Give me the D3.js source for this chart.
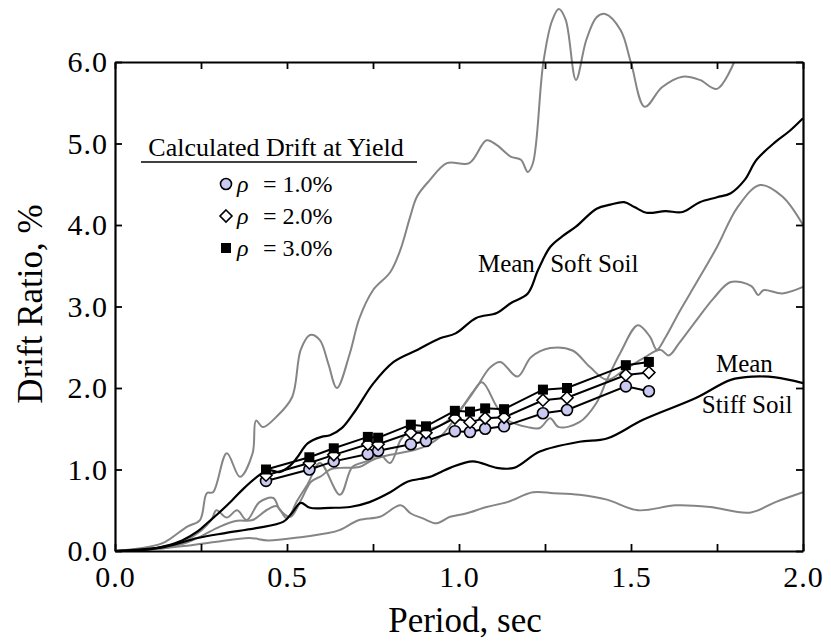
<!DOCTYPE html>
<html>
<head>
<meta charset="utf-8">
<script src="https://cdn.jsdelivr.net/npm/d3@7"></script>
<style>
  body { margin: 0; background: #fff; }
  svg text { font-family: "Liberation Serif", "Times New Roman", serif; fill: #000; }
</style>
</head>
<body>
<svg id="chart"></svg>
<script>
// Spectra (gray) - period, sec / drift ratio, %
var topPeriod = [0, 0.096, 0.145, 0.21, 0.247, 0.267, 0.285, 0.325, 0.363, 0.40, 0.41, 0.43, 0.47, 0.515, 0.54, 0.567, 0.595, 0.62, 0.645, 0.683, 0.71, 0.75, 0.80, 0.83, 0.858, 0.878, 0.915, 0.965, 1.03, 1.08, 1.11, 1.15, 1.18, 1.20, 1.215, 1.245, 1.27, 1.29, 1.31, 1.34, 1.37, 1.40, 1.425, 1.47, 1.50, 1.54, 1.59, 1.65, 1.70, 1.75, 1.80];
var topDrift  = [0, 0.05, 0.11, 0.30, 0.38, 0.71, 0.72, 1.20, 0.91, 1.20, 1.60, 1.52, 1.65, 1.89, 2.47, 2.65, 2.59, 2.30, 2.00, 2.43, 2.85, 3.20, 3.42, 3.70, 4.10, 4.35, 4.55, 4.76, 4.76, 5.04, 4.98, 4.84, 4.80, 4.65, 4.76, 5.99, 6.50, 6.65, 6.52, 5.78, 6.27, 6.55, 6.59, 6.39, 5.99, 5.45, 5.69, 5.82, 5.78, 5.67, 6.00];

var g2Period = [0, 0.10, 0.15, 0.20, 0.25, 0.28, 0.295, 0.325, 0.355, 0.383, 0.42, 0.46, 0.48, 0.51, 0.54, 0.57, 0.60, 0.625, 0.654, 0.71, 0.75, 0.80, 0.85, 0.90, 0.95, 1.00, 1.04, 1.067, 1.11, 1.14, 1.20, 1.235, 1.265, 1.29, 1.35, 1.40, 1.43, 1.47, 1.52, 1.555, 1.575, 1.60, 1.64, 1.69, 1.75, 1.81, 1.875, 1.94, 2.00];
var g2Drift  = [0, 0.03, 0.06, 0.12, 0.25, 0.38, 0.50, 0.41, 0.50, 0.38, 0.60, 0.65, 0.50, 0.42, 0.62, 0.85, 0.92, 1.00, 1.02, 1.03, 1.12, 1.18, 1.22, 1.28, 1.42, 1.70, 1.95, 2.07, 1.77, 1.61, 1.52, 1.51, 1.63, 1.52, 1.58, 1.82, 2.10, 2.44, 2.77, 2.63, 2.47, 2.62, 2.93, 3.29, 3.73, 4.22, 4.49, 4.35, 4.00];

var g3Period = [0, 0.10, 0.15, 0.20, 0.25, 0.305, 0.355, 0.40, 0.44, 0.47, 0.50, 0.53, 0.56, 0.596, 0.654, 0.69, 0.73, 0.77, 0.80, 0.83, 0.85, 0.90, 0.95, 1.00, 1.05, 1.09, 1.12, 1.17, 1.21, 1.265, 1.33, 1.38, 1.43, 1.48, 1.53, 1.585, 1.61, 1.64, 1.69, 1.74, 1.79, 1.85, 1.87, 1.885, 1.94, 2.00];
var g3Drift  = [0, 0.02, 0.04, 0.09, 0.18, 0.30, 0.37, 0.38, 0.50, 0.55, 0.40, 0.62, 0.82, 1.08, 0.69, 1.03, 1.10, 1.18, 1.08, 1.36, 1.45, 1.48, 1.55, 1.72, 2.00, 2.25, 2.32, 2.14, 2.38, 2.49, 2.46, 2.26, 2.10, 2.22, 2.35, 2.47, 2.40, 2.55, 2.83, 3.10, 3.30, 3.25, 3.14, 3.20, 3.16, 3.24];

var lowPeriod = [0, 0.10, 0.20, 0.29, 0.39, 0.445, 0.54, 0.62, 0.654, 0.71, 0.77, 0.83, 0.86, 0.895, 0.935, 0.974, 1.02, 1.08, 1.14, 1.215, 1.275, 1.35, 1.43, 1.52, 1.63, 1.73, 1.845, 1.92, 2.00];
var lowDrift  = [0, 0.02, 0.06, 0.11, 0.16, 0.13, 0.17, 0.22, 0.26, 0.38, 0.42, 0.56, 0.46, 0.40, 0.34, 0.42, 0.46, 0.54, 0.60, 0.72, 0.71, 0.69, 0.63, 0.50, 0.56, 0.54, 0.47, 0.60, 0.72];

// Mean spectra (black)
var softPeriod = [0, 0.10, 0.145, 0.195, 0.24, 0.27, 0.30, 0.34, 0.37, 0.41, 0.445, 0.48, 0.51, 0.53, 0.56, 0.60, 0.625, 0.66, 0.70, 0.75, 0.81, 0.88, 0.945, 0.99, 1.05, 1.11, 1.15, 1.20, 1.23, 1.265, 1.30, 1.34, 1.40, 1.44, 1.48, 1.51, 1.545, 1.60, 1.65, 1.70, 1.75, 1.79, 1.83, 1.865, 1.92, 1.96, 2.00];
var softDrift  = [0, 0.02, 0.06, 0.13, 0.24, 0.35, 0.46, 0.62, 0.75, 0.90, 0.99, 0.97, 1.05, 1.15, 1.32, 1.40, 1.42, 1.51, 1.73, 2.05, 2.32, 2.47, 2.61, 2.67, 2.86, 2.92, 3.04, 3.16, 3.45, 3.73, 3.86, 3.98, 4.20, 4.25, 4.28, 4.22, 4.15, 4.17, 4.16, 4.28, 4.34, 4.39, 4.55, 4.80, 5.02, 5.15, 5.31];

var stiffPeriod = [0, 0.145, 0.24, 0.32, 0.41, 0.49, 0.515, 0.54, 0.567, 0.625, 0.683, 0.74, 0.80, 0.85, 0.915, 0.974, 1.04, 1.11, 1.16, 1.235, 1.35, 1.43, 1.535, 1.69, 1.79, 1.855, 1.92, 2.00];
var stiffDrift  = [0, 0.05, 0.16, 0.22, 0.28, 0.36, 0.47, 0.59, 0.53, 0.53, 0.54, 0.60, 0.72, 0.85, 0.91, 1.02, 1.10, 1.02, 1.02, 1.22, 1.34, 1.38, 1.61, 1.88, 2.10, 2.14, 2.13, 2.06];

// Calculated drift at yield
var yieldPeriod = [0.439, 0.565, 0.636, 0.735, 0.765, 0.86, 0.904, 0.988, 1.032, 1.076, 1.131, 1.244, 1.314, 1.485, 1.552];
var rho1Drift = [0.86, 1.00, 1.10, 1.19, 1.23, 1.31, 1.35, 1.47, 1.46, 1.50, 1.53, 1.69, 1.73, 2.02, 1.96];
var rho2Drift = [0.93, 1.08, 1.18, 1.31, 1.31, 1.45, 1.45, 1.63, 1.58, 1.63, 1.64, 1.85, 1.88, 2.16, 2.19];
var rho3Drift = [1.00, 1.15, 1.26, 1.40, 1.39, 1.55, 1.53, 1.72, 1.71, 1.75, 1.74, 1.98, 2.00, 2.28, 2.32];
var rhoLabels = ["1.0%", "2.0%", "3.0%"];

var xTicks = [0, 0.25, 0.5, 0.75, 1.0, 1.25, 1.5, 1.75, 2.0];
var yTicks = [0, 1, 2, 3, 4, 5, 6];

var w = 831, h = 641;
var svg = d3.select("#chart").attr("width", w).attr("height", h);

var x = d3.scaleLinear().domain([0, 2]).range([115, 803]);
var y = d3.scaleLinear().domain([0, 6]).range([551, 62]);

function pts(px, py) {
    return px.map(function (d, i) { return [d, py[i]]; });
}

var smooth = d3.line()
    .x(function (d) { return x(d[0]); })
    .y(function (d) { return y(d[1]); })
    .curve(d3.curveCatmullRom.alpha(0.5));

var straight = d3.line()
    .x(function (d) { return x(d[0]); })
    .y(function (d) { return y(d[1]); });

// gray spectra
[[topPeriod, topDrift], [g2Period, g2Drift], [g3Period, g3Drift], [lowPeriod, lowDrift]].forEach(function (s) {
    svg.append("path")
        .attr("d", smooth(pts(s[0], s[1])))
        .attr("fill", "none")
        .attr("stroke", "#858585")
        .attr("stroke-width", 2);
});

// mean lines
[[softPeriod, softDrift], [stiffPeriod, stiffDrift]].forEach(function (s) {
    svg.append("path")
        .attr("d", smooth(pts(s[0], s[1])))
        .attr("fill", "none")
        .attr("stroke", "#000")
        .attr("stroke-width", 2.2);
});

// axes, ticks pointing inward
var fmt = function (d) { return (d * 2) % 1 === 0 ? d.toFixed(1) : ""; };

svg.append("g").attr("class", "axis").attr("transform", "translate(0,551)")
    .call(d3.axisBottom(x).tickValues(xTicks).tickFormat(fmt).tickSizeInner(-7).tickSizeOuter(0).tickPadding(15));
svg.append("g").attr("class", "axis").attr("transform", "translate(0,62)")
    .call(d3.axisTop(x).tickValues(xTicks).tickFormat("").tickSizeInner(-7).tickSizeOuter(0));
svg.append("g").attr("class", "axis").attr("transform", "translate(115,0)")
    .call(d3.axisLeft(y).tickValues(yTicks).tickFormat(d3.format(".1f")).tickSizeInner(-7).tickSizeOuter(0).tickPadding(7));
svg.append("g").attr("class", "axis").attr("transform", "translate(803,0)")
    .call(d3.axisRight(y).tickValues(yTicks).tickFormat("").tickSizeInner(-7).tickSizeOuter(0));

svg.selectAll(".axis .domain").attr("stroke", "#000").attr("stroke-width", 2.2);
svg.selectAll(".axis .tick line").attr("stroke", "#000").attr("stroke-width", 1.8);
svg.selectAll(".axis text")
    .attr("font-family", "Liberation Serif")
    .attr("font-size", 30)
    .attr("letter-spacing", 1)
    .attr("fill", "#000");

// yield drift series
var series = [
    { vals: rho1Drift, shape: "circle" },
    { vals: rho2Drift, shape: "diamond" },
    { vals: rho3Drift, shape: "square" }
];

function drawMarker(sel, shape) {
    if (shape === "circle") {
        sel.append("circle").attr("r", 5.5)
            .attr("fill", "#c9c9f2").attr("stroke", "#000").attr("stroke-width", 1.6);
    } else if (shape === "diamond") {
        sel.append("path").attr("d", "M0,-6L6,0L0,6L-6,0Z")
            .attr("fill", "#fff").attr("stroke", "#000").attr("stroke-width", 1.6);
    } else {
        sel.append("rect").attr("x", -5).attr("y", -5).attr("width", 10).attr("height", 10)
            .attr("fill", "#000");
    }
}

series.forEach(function (s) {
    var data = pts(yieldPeriod, s.vals);
    svg.append("path")
        .attr("d", straight(data))
        .attr("fill", "none")
        .attr("stroke", "#000")
        .attr("stroke-width", 2);
    svg.append("g").selectAll("g")
        .data(data)
        .enter().append("g")
        .attr("transform", function (d) { return "translate(" + x(d[0]) + "," + y(d[1]) + ")"; })
        .each(function () { drawMarker(d3.select(this), s.shape); });
});

// legend
var legend = svg.append("g");
legend.append("text")
    .attr("x", 276).attr("y", 156)
    .attr("text-anchor", "middle")
    .attr("font-size", 26)
    .text("Calculated Drift at Yield");
legend.append("line")
    .attr("x1", 141).attr("x2", 417).attr("y1", 162).attr("y2", 162)
    .attr("stroke", "#000").attr("stroke-width", 1.5);

series.forEach(function (s, i) {
    var row = legend.append("g").attr("transform", "translate(226," + (184 + i * 32) + ")");
    drawMarker(row, s.shape);
    var t = row.append("text").attr("x", 11).attr("y", 8).attr("font-size", 24);
    t.append("tspan").attr("font-style", "italic").text("\u03C1");
    t.append("tspan").attr("x", 37).text("= " + rhoLabels[i]);
});

// annotations
var notes = [
    { text: "Mean", px: 1.055, dr: 3.42 },
    { text: "Soft Soil", px: 1.265, dr: 3.42 },
    { text: "Mean", px: 1.747, dr: 2.20 },
    { text: "Stiff Soil", px: 1.706, dr: 1.69 }
];
svg.selectAll(".note").data(notes).enter().append("text")
    .attr("class", "note")
    .attr("x", function (d) { return x(d.px); })
    .attr("y", function (d) { return y(d.dr); })
    .attr("font-size", 25)
    .text(function (d) { return d.text; });

// axis titles
svg.append("text")
    .attr("x", 465).attr("y", 632)
    .attr("text-anchor", "middle")
    .attr("font-size", 35)
    .text("Period, sec");
svg.append("text")
    .attr("transform", "translate(42,304) rotate(-90)")
    .attr("text-anchor", "middle")
    .attr("font-size", 35)
    .text("Drift Ratio, %");
</script>
</body>
</html>
